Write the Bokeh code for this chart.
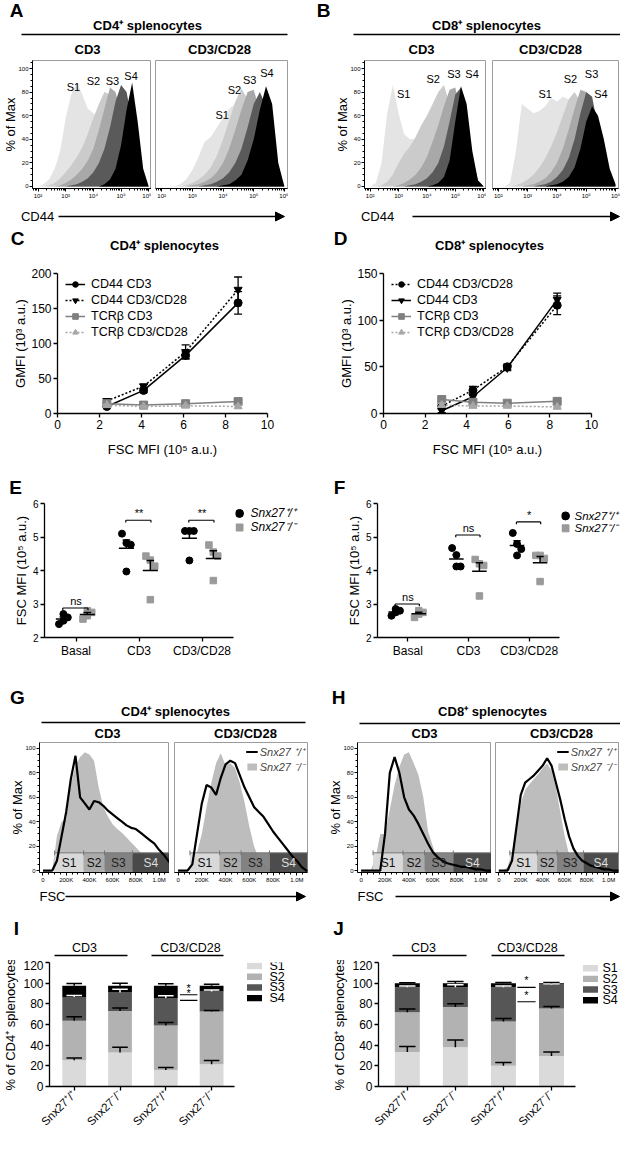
import math
import numpy as np
from bokeh.plotting import figure
from bokeh.layouts import column, row
from bokeh.models import (Range1d, FixedTicker, SingleIntervalTicker, Spacer, Arrow,
                          NormalHead, Legend, LegendItem)
from bokeh.core.properties import value
from bokeh.embed import file_html
from bokeh.resources import INLINE

FONT = "Liberation Sans"
STAGES = ["S1", "S2", "S3", "S4"]

# ---------------- A / B : CD44 histograms (% of max) on a log10(CD44) grid ----------------
CD44_LOG = [1.8, 2.0, 2.2, 2.4, 2.6, 2.8, 3.0, 3.2, 3.4, 3.6, 3.8,
            4.0, 4.2, 4.4, 4.6, 4.8, 5.0, 5.2, 5.4, 5.6, 5.8, 6.0]
A_CD3 = [
    [0, 0, 2, 6, 15, 30, 58, 78, 88, 78, 66, 62, 58, 48, 34, 20, 9, 3, 1, 0, 0, 0],
    [0, 0, 0, 1, 3, 7, 12, 18, 25, 33, 45, 58, 70, 80, 78, 62, 40, 20, 7, 2, 0, 0],
    [0, 0, 0, 0, 0, 1, 3, 6, 10, 15, 22, 32, 48, 66, 84, 80, 62, 35, 14, 4, 1, 0],
    [0, 0, 0, 0, 0, 0, 0, 1, 2, 4, 7, 12, 20, 32, 50, 72, 86, 80, 55, 22, 5, 0],
    [0, 0, 0, 0, 0, 0, 0, 0, 0, 0, 0, 0, 0, 2, 6, 15, 35, 65, 88, 55, 15, 0],
]
A_CD28 = [
    [0, 0, 0, 0, 2, 6, 14, 25, 38, 42, 50, 58, 66, 70, 62, 45, 25, 10, 3, 1, 0, 0],
    [0, 0, 0, 0, 0, 1, 3, 6, 10, 16, 26, 40, 56, 72, 83, 74, 52, 28, 10, 3, 0, 0],
    [0, 0, 0, 0, 0, 0, 1, 2, 4, 7, 12, 20, 32, 48, 65, 80, 82, 64, 36, 12, 2, 0],
    [0, 0, 0, 0, 0, 0, 0, 0, 1, 2, 4, 7, 12, 20, 32, 50, 70, 80, 68, 35, 8, 0],
    [0, 0, 0, 0, 0, 0, 0, 0, 0, 0, 0, 1, 2, 5, 10, 22, 40, 65, 85, 70, 20, 0],
]
B_CD3 = [
    [0, 0, 3, 20, 62, 86, 62, 44, 40, 40, 36, 32, 28, 22, 15, 9, 4, 1, 0, 0, 0, 0],
    [0, 0, 0, 1, 4, 10, 20, 28, 34, 42, 52, 60, 70, 80, 86, 70, 45, 22, 8, 2, 0, 0],
    [0, 0, 0, 0, 0, 0, 1, 3, 6, 10, 16, 25, 38, 52, 68, 82, 84, 62, 32, 10, 2, 0],
    [0, 0, 0, 0, 0, 0, 0, 0, 1, 2, 4, 7, 12, 20, 34, 55, 78, 84, 60, 25, 5, 0],
    [0, 0, 0, 0, 0, 0, 0, 0, 0, 0, 0, 0, 1, 3, 8, 22, 55, 85, 70, 30, 5, 0],
]
B_CD28 = [
    [0, 0, 0, 3, 30, 70, 66, 62, 64, 68, 75, 72, 76, 74, 70, 58, 40, 22, 9, 3, 0, 0],
    [0, 0, 0, 0, 1, 3, 6, 10, 16, 24, 34, 46, 60, 74, 80, 72, 50, 26, 9, 2, 0, 0],
    [0, 0, 0, 0, 0, 0, 1, 2, 4, 7, 12, 20, 32, 48, 66, 82, 80, 58, 30, 10, 2, 0],
    [0, 0, 0, 0, 0, 0, 0, 0, 1, 2, 4, 8, 14, 24, 40, 62, 80, 76, 50, 20, 4, 0],
    [0, 0, 0, 0, 0, 0, 0, 0, 0, 0, 1, 2, 4, 8, 16, 32, 55, 68, 60, 40, 15, 2],
]
HIST_SHADES = ["#e4e4e4", "#cbcbcb", "#a8a8a8", "#5a5a5a", "#000000"]
# stage label anchors (log10 CD44, % of max)
A_CD3_LAB = [(3.28, 84), (4.0, 89), (4.69, 89), (5.36, 94)]
A_CD28_LAB = [(3.97, 61), (4.37, 82), (4.87, 90), (5.43, 96)]
B_CD3_LAB = [(3.18, 78), (4.22, 91), (4.95, 95), (5.59, 95)]
B_CD28_LAB = [(3.6, 78), (4.46, 91), (5.18, 95), (5.5, 78)]

# ---------------- C / D : GMFI vs FSC MFI ----------------
C_X = [2.35, 4.1, 6.1, 8.6]
C_CD44_CD3 = [10, 33, 83, 158]
C_CD44_CD3_ERR = [2, 3, 5, 16]
C_CD44_CD28 = [18, 39, 88, 177]
C_CD44_CD28_ERR = [3, 3, 10, 18]
C_TCR_CD3 = [14, 12, 14, 17]
C_TCR_CD3_ERR = [2, 1, 1, 2]
C_TCR_CD28 = [12, 10, 11, 10]
C_TCR_CD28_ERR = [1, 1, 1, 2]

D_X = [2.8, 4.3, 5.95, 8.35]
D_CD44_CD28 = [8, 25, 50, 116]
D_CD44_CD28_ERR = [3, 4, 3, 10]
D_CD44_CD3 = [3, 18, 49, 122]
D_CD44_CD3_ERR = [2, 3, 3, 7]
D_TCR_CD3 = [15, 12, 11, 13]
D_TCR_CD3_ERR = [2, 2, 1, 1]
D_TCR_CD28 = [9, 8, 8, 7]
D_TCR_CD28_ERR = [2, 1, 1, 1]

# ---------------- E / F : FSC MFI per mouse ----------------
CONDITIONS = ["Basal", "CD3", "CD3/CD28"]
E_WT = [[2.40, 2.50, 2.60, 2.70], [5.10, 4.82, 4.77, 3.97], [5.18, 5.18, 5.18, 4.30]]
E_KO = [[2.55, 2.65, 2.75, 2.80], [4.43, 4.31, 4.13, 3.13], [4.76, 4.55, 4.43, 3.70]]
F_WT = [[2.65, 2.75, 2.80, 2.85], [4.67, 4.46, 4.12, 4.12], [5.12, 4.79, 4.64, 4.45]]
F_KO = [[2.60, 2.70, 2.75, 2.80], [4.33, 4.20, 4.15, 3.24], [4.45, 4.45, 4.36, 3.67]]
E_SIG = ["ns", "**", "**"]
F_SIG = ["ns", "ns", "*"]

# ---------------- G / H : FSC histograms (% of max) ----------------
FSC_K = [0, 40, 80, 120, 160, 200, 240, 280, 320, 360, 400, 440, 480, 520, 560,
         600, 640, 680, 720, 760, 800, 840, 880, 920, 960, 1000, 1040, 1080, 1120]
G_CD3_KO = [0, 0, 0, 28, 40, 42, 70, 86, 93, 97, 95, 90, 68, 52, 44, 38, 34, 31, 27, 23,
            19, 15, 12, 8, 4, 1, 0, 0, 0]
G_CD3_WT = [0, 0, 0, 8, 28, 48, 75, 94, 60, 55, 50, 57, 56, 53, 49, 46, 43, 40, 37, 35,
            34, 31, 28, 25, 22, 17, 13, 8, 3]
G_CD28_KO = [0, 0, 0, 4, 15, 30, 52, 72, 88, 96, 86, 88, 84, 72, 56, 36, 20, 10, 5, 2,
             0, 0, 0, 0, 0, 0, 0, 0, 0]
G_CD28_WT = [0, 0, 0, 5, 30, 55, 70, 68, 62, 76, 87, 90, 88, 78, 68, 60, 52, 48, 44, 38,
             32, 27, 22, 17, 12, 8, 3, 0, 0]
H_CD3_KO = [0, 0, 0, 10, 30, 30, 50, 70, 85, 95, 97, 88, 78, 60, 32, 20, 8, 4, 2, 1,
            0, 0, 0, 0, 0, 0, 0, 0, 0]
H_CD3_WT = [0, 0, 0, 0, 0, 30, 80, 93, 80, 60, 50, 45, 38, 30, 22, 15, 11, 8, 6, 5,
            4, 3, 3, 2, 1, 1, 0, 0, 0]
H_CD28_KO = [0, 0, 3, 15, 35, 55, 66, 71, 75, 79, 84, 88, 82, 68, 48, 28, 13, 5, 2, 0,
             0, 0, 0, 0, 0, 0, 0, 0, 0]
H_CD28_WT = [0, 0, 0, 8, 35, 62, 72, 75, 78, 82, 86, 92, 86, 72, 58, 42, 28, 18, 12, 8,
             6, 4, 3, 2, 1, 1, 0, 0, 0]
GATE_EDGES_K = [100, 350, 530, 770, 1090]
GATE_COLORS = ["#d9d9d9", "#a9a9a9", "#7d7d7d", "#3e3e3e"]
GATE_TEXT = ["#111111", "#111111", "#222222", "#dddddd"]

# ---------------- I / J : stacked % of cells per size stage ----------------
GENOTYPES = ["Snx27⁺/⁺", "Snx27⁻/⁻", "Snx27⁺/⁺", "Snx27⁻/⁻"]
I_S1 = [25.5, 33.0, 16.0, 21.5]
I_S2 = [38.2, 40.0, 43.0, 51.0]
I_S3 = [22.8, 18.0, 26.6, 19.4]
I_S4 = [11.0, 6.5, 11.9, 5.6]
I_S1_ERR = [2.2, 5.0, 2.5, 3.7]
I_S2_ERR = [3.7, 3.0, 3.0, 1.0]
I_S3_ERR = [1.5, 3.0, 2.2, 1.5]
I_S4_ERR = [2.2, 2.5, 1.9, 1.4]
J_S1 = [33.5, 38.0, 20.2, 29.5]
J_S2 = [38.4, 38.9, 42.8, 45.9]
J_S3 = [24.1, 19.1, 33.0, 23.2]
J_S4 = [3.8, 3.8, 3.8, 1.2]
J_S1_ERR = [5.3, 7.0, 3.1, 4.0]
J_S2_ERR = [3.1, 3.1, 2.7, 2.1]
J_S3_ERR = [1.3, 2.5, 1.3, 0.8]
J_S4_ERR = [0.5, 1.9, 0.9, 0.9]
STACK_COLORS = ["#dadada", "#b2b2b2", "#565656", "#000000"]


# ======================= helpers =======================
def T(p, x, y, s, size=12, style="normal", align="center", baseline="middle",
      color="black", angle=0):
    p.text(x=[x], y=[y], text=[s], text_font=value(FONT), text_font_size=f"{size}px",
           text_font_style=style, text_align=align, text_baseline=baseline,
           text_color=color, angle=angle)


def ann(x0, x1, y0, y1):
    p = figure(width=x1 - x0, height=y1 - y0, x_range=Range1d(x0, x1),
               y_range=Range1d(y1, y0), x_axis_type=None, y_axis_type=None,
               output_backend="svg", toolbar_location=None, title=None,
               min_border_left=0, min_border_right=0, min_border_top=0,
               min_border_bottom=0)
    p.outline_line_color = None
    p.background_fill_color = None
    p.border_fill_color = None
    return p


def base(w, h, bl, br, bt, bb, xr, yr, xtype="linear"):
    p = figure(width=w, height=h, x_range=xr, y_range=yr, x_axis_type=xtype,
               output_backend="svg", toolbar_location=None, title=None,
               min_border_left=bl, min_border_right=br, min_border_top=bt,
               min_border_bottom=bb)
    p.xgrid.visible = False
    p.ygrid.visible = False
    p.outline_line_color = None
    p.border_fill_color = None
    for ax in p.axis:
        ax.axis_line_color = "black"
        ax.axis_line_width = 1.3
        ax.major_tick_line_color = "black"
        ax.major_tick_line_width = 1.3
        ax.major_tick_out = 4
        ax.major_tick_in = 0
        ax.minor_tick_line_color = None
        ax.major_label_text_font = FONT
        ax.major_label_text_font_size = "12px"
        ax.major_label_text_color = "black"
        ax.major_label_standoff = 2
        ax.axis_label_text_font = FONT
        ax.axis_label_text_font_size = "13px"
        ax.axis_label_text_font_style = "normal"
        ax.axis_label_text_color = "black"
        ax.axis_label_standoff = 2
    return p


def hist_axes(p, ylabel):
    p.outline_line_color = "#9c9c9c"
    for ax in p.axis:
        ax.axis_line_width = 1
        ax.major_tick_line_width = 1
        ax.major_tick_out = 3
        ax.minor_tick_line_color = "black"
        ax.minor_tick_out = 2
        ax.minor_tick_in = 0
        ax.major_label_text_font_size = "6px"
        ax.major_label_standoff = 1
    p.yaxis.ticker = SingleIntervalTicker(interval=20, num_minor_ticks=4)
    if ylabel:
        p.yaxis.axis_label = "% of Max"
        p.yaxis.axis_label_text_font_size = "13px"
        p.yaxis.axis_label_standoff = -3
    else:
        p.yaxis.visible = False


def cd44_hist(w, bl, br, layers, labels, ylabel):
    p = base(w, 146, bl, br, 2, 16, Range1d(10 ** 1.8, 10 ** 6.1), Range1d(-1.7, 106.8), "log")
    hist_axes(p, ylabel)
    decades = [100, 1000, 10000, 100000, 1000000]
    p.xaxis.ticker = FixedTicker(ticks=decades,
                                 minor_ticks=[d * k for d in [10] + decades[:-1] for k in range(2, 10)])
    p.xaxis.major_label_overrides = {100: "10²", 1000: "10³", 10000: "10⁴",
                                     100000: "10⁵", 1000000: "10⁶"}
    x = [10 ** v for v in CD44_LOG]
    for vals, col in zip(layers, HIST_SHADES):
        p.varea(x=x, y1=[0] * len(x), y2=vals, fill_color=col)
    for (lx, ly), name in zip(labels, STAGES):
        T(p, 10 ** lx, ly, name, size=11)
    return p


def fsc_hist(w, bl, br, ko, wt, ylabel, legend):
    p = base(w, 150, bl, br, 2, 18, Range1d(-30000, 1090000), Range1d(-1.6, 104.9))
    hist_axes(p, ylabel)
    p.xaxis.ticker = FixedTicker(ticks=[0, 200000, 400000, 600000, 800000, 1000000],
                                 minor_ticks=list(range(0, 1080000, 50000)))
    p.xaxis.major_label_overrides = {0: "0", 200000: "200K", 400000: "400K", 600000: "600K",
                                     800000: "800K", 1000000: "1.0M"}
    x = [k * 1000 for k in FSC_K]
    r_ko = p.varea(x=x, y1=[0] * len(x), y2=ko, fill_color="#bdbdbd")
    edges = [k * 1000 for k in GATE_EDGES_K]
    p.quad(left=edges[:-1], right=edges[1:], bottom=-1.6, top=14.5,
           fill_color=GATE_COLORS, fill_alpha=0.93, line_color=None)
    p.segment(x0=[edges[0]], y0=[14.5], x1=[edges[-1]], y1=[14.5], line_color="#777777", line_width=1)
    p.segment(x0=edges, y0=[12.5] * len(edges), x1=edges, y1=[16.5] * len(edges),
              line_color="#777777", line_width=1)
    r_wt = p.line(x, wt, line_color="black", line_width=2.2)
    for i, name in enumerate(STAGES):
        T(p, (edges[i] + edges[i + 1]) / 2, 6.5, name, size=12, color=GATE_TEXT[i])
    if legend:
        leg = Legend(items=[LegendItem(label="Snx27 ⁺/⁺", renderers=[r_wt]),
                            LegendItem(label="Snx27 ⁻/⁻", renderers=[r_ko])],
                     location="top_right")
        leg.label_text_font = FONT
        leg.label_text_font_style = "italic"
        leg.label_text_font_size = "11px"
        leg.glyph_width = 12
        leg.glyph_height = 9
        leg.label_height = 11
        leg.label_standoff = 2
        leg.spacing = 0
        leg.padding = 1
        leg.margin = 2
        leg.border_line_color = None
        leg.background_fill_alpha = 0
        p.add_layout(leg)
    return p


def gmfi_fig(w, bl, br, xs, series, ymax, yticks):
    p = base(w, 202, bl, br, 13, 49, Range1d(0, 10), Range1d(0, ymax))
    p.xaxis.ticker = FixedTicker(ticks=[0, 2, 4, 6, 8, 10])
    p.yaxis.ticker = FixedTicker(ticks=yticks)
    p.xaxis.axis_label = "FSC MFI (10⁵ a.u.)"
    p.yaxis.axis_label = "GMFI (10³ a.u.)"
    p.xaxis.axis_label_standoff = 10
    p.yaxis.axis_label_standoff = 0
    items = []
    for name, ys, errs, marker, color, dash in series:
        lr = p.line(xs, ys, line_color=color, line_width=1.5, line_dash=dash)
        lo = [y - e for y, e in zip(ys, errs)]
        hi = [y + e for y, e in zip(ys, errs)]
        p.segment(x0=xs, y0=lo, x1=xs, y1=hi, line_color=color, line_width=1.3)
        p.scatter(xs, lo, marker="dash", size=8, line_color=color, line_width=1.3)
        p.scatter(xs, hi, marker="dash", size=8, line_color=color, line_width=1.3)
        sr = p.scatter(xs, ys, marker=marker, size=8, fill_color=color, line_color=color)
        items.append(LegendItem(label=name, renderers=[lr, sr]))
    leg = Legend(items=items, location=(8, 74))
    leg.label_text_font = FONT
    leg.label_text_font_size = "12.5px"
    leg.label_text_color = "black"
    leg.glyph_width = 20
    leg.glyph_height = 14
    leg.label_height = 14
    leg.label_standoff = 6
    leg.spacing = 2
    leg.padding = 0
    leg.margin = 0
    leg.border_line_color = None
    leg.background_fill_alpha = 0
    p.add_layout(leg)
    return p


def dot_fig(w, bl, wt, ko, sig, sig_y, sig_h):
    p = base(w, 162, bl, 2, 5, 23, Range1d(0.5, 3.5), Range1d(2, 6))
    p.yaxis.ticker = FixedTicker(ticks=[2, 3, 4, 5, 6])
    p.yaxis.major_label_text_font_size = "10px"
    p.xaxis.ticker = FixedTicker(ticks=[1, 2, 3])
    p.xaxis.major_label_overrides = {i + 1: c for i, c in enumerate(CONDITIONS)}
    p.yaxis.axis_label = "FSC MFI (10⁵ a.u.)"
    p.yaxis.axis_label_standoff = 1
    jit = [-0.07, 0.0, 0.07, 0.0]
    for g in range(3):
        for vals, off, marker, col, size in [(wt[g], -0.2, "circle", "black", 7),
                                              (ko[g], 0.18, "square", "#9a9a9a", 6.5)]:
            c = g + 1 + off
            p.scatter([c + j for j in jit], vals, marker=marker, size=size,
                      fill_color=col, line_color=col)
            m = float(np.mean(vals))
            se = float(np.std(vals, ddof=1) / np.sqrt(len(vals)))
            p.segment(x0=[c - 0.12], y0=[m], x1=[c + 0.12], y1=[m], line_color="black", line_width=1.5)
            p.segment(x0=[c], y0=[m], x1=[c], y1=[m + se], line_color="black", line_width=1.5)
            p.segment(x0=[c - 0.06], y0=[m + se], x1=[c + 0.06], y1=[m + se],
                      line_color="black", line_width=1.5)
        x0, x1, y = g + 1 - 0.21, g + 1 + 0.19, sig_y[g]
        p.segment(x0=[x0, x0, x1], y0=[y, y, y], x1=[x1, x0, x1], y1=[y, y - sig_h, y - sig_h],
                  line_color="black", line_width=1.2)
        T(p, g + 1, y + 0.04, sig[g], size=11, baseline="bottom")
    return p


def bar_fig(w, bl, xr, segs, errs, ylabel, sig_lines):
    p = base(w, 174, bl, 2, 2, 44, xr, Range1d(0, 120))
    xs = [1, 2, 3, 4]
    p.xaxis.ticker = FixedTicker(ticks=xs)
    p.xaxis.major_label_overrides = {i + 1: g for i, g in enumerate(GENOTYPES)}
    p.xaxis.major_label_orientation = math.pi / 4
    p.xaxis.major_label_text_font_size = "11.5px"
    p.yaxis.ticker = FixedTicker(ticks=[0, 20, 40, 60, 80, 100, 120])
    p.yaxis.axis_label = ylabel
    p.yaxis.axis_label_standoff = 2
    bottom = np.zeros(4)
    tops = []
    for seg, col in zip(segs, STACK_COLORS):
        top = bottom + np.array(seg)
        p.vbar(x=xs, bottom=bottom, top=top, width=0.52, fill_color=col, line_color=None)
        tops.append(top)
        bottom = top
    for k, (top, err) in enumerate(zip(tops, errs)):
        col = "white" if k == 2 else "black"
        hi = top + np.array(err)
        p.segment(x0=xs, y0=top, x1=xs, y1=hi, line_color=col, line_width=1.5)
        p.segment(x0=[x - 0.17 for x in xs], y0=hi, x1=[x + 0.17 for x in xs], y1=hi,
                  line_color=col, line_width=1.5)
    for (x0, x1, y) in sig_lines:
        p.segment(x0=[x0], y0=[y], x1=[x1], y1=[y], line_color="black", line_width=1.2)
        T(p, (x0 + x1) / 2, y + 0.8, "*", size=11, baseline="bottom")
    return p


def stage_legend(x0, x1, y0, y1, sx, tx, rows):
    p = ann(x0, x1, y0, y1)
    p.rect(x=[sx] * 4, y=rows, width=15, height=9, fill_color=STACK_COLORS, line_color=None)
    for yy, name in zip(rows, STAGES):
        T(p, tx, yy, name, size=12.5, align="left")
    return p


def geno_legend(x0, x1, y0, y1, mx, tx, ys, size):
    p = ann(x0, x1, y0, y1)
    p.scatter([mx], [ys[0]], marker="circle", size=8, fill_color="black", line_color="black")
    p.scatter([mx], [ys[1]], marker="square", size=7, fill_color="#9a9a9a", line_color="#9a9a9a")
    T(p, tx, ys[0], "Snx27⁺/⁺", size=size, style="italic", align="left")
    T(p, tx, ys[1], "Snx27⁻/⁻", size=size, style="italic", align="left")
    return p


def arrow(p, x0, x1, y):
    p.add_layout(Arrow(end=NormalHead(size=9, fill_color="black", line_color="black"),
                       x_start=x0, y_start=y, x_end=x1, y_end=y,
                       line_color="black", line_width=1.3))


def hline(p, x0, x1, y, w=1.3):
    p.segment(x0=[x0], y0=[y], x1=[x1], y1=[y], line_color="black", line_width=w)


# ======================= rows =======================
# R1 header A/B
r1 = ann(8, 628, 8, 66)
T(r1, 24, 18, "A", size=19, style="bold")
T(r1, 155, 33, "CD4⁺ splenocytes", size=13, style="bold")
hline(r1, 29, 295, 42)
T(r1, 95, 57, "CD3", size=13, style="bold")
T(r1, 227, 57, "CD3/CD28", size=13, style="bold")
T(r1, 331, 18, "B", size=19, style="bold")
T(r1, 494, 33, "CD8⁺ splenocytes", size=13, style="bold")
hline(r1, 361, 628, 42)
T(r1, 429, 57, "CD3", size=13, style="bold")
T(r1, 558, 57, "CD3/CD28", size=13, style="bold")

# R2 CD44 histograms
a1 = cd44_hist(151, 23, 0, A_CD3, A_CD3_LAB, True)
a2 = cd44_hist(137, 4, 1, A_CD28, A_CD28_LAB, False)
b1 = cd44_hist(154, 27, 0, B_CD3, B_CD3_LAB, True)
b2 = cd44_hist(134, 6, 2, B_CD28, B_CD28_LAB, False)
r2 = row(a1, a2, Spacer(width=44, height=146), b1, b2)

# R3 CD44 arrows + C/D headers
r3 = ann(8, 628, 212, 268)
T(r3, 45, 224, "CD44", size=13)
arrow(r3, 66, 292, 224)
T(r3, 385, 224, "CD44", size=13)
arrow(r3, 420, 627, 224)
T(r3, 25, 246, "C", size=19, style="bold")
T(r3, 172, 253, "CD4⁺ splenocytes", size=13, style="bold")
T(r3, 348, 246, "D", size=19, style="bold")
T(r3, 497, 253, "CD8⁺ splenocytes", size=13, style="bold")

# R4 C / D
c_series = [("CD44 CD3", C_CD44_CD3, C_CD44_CD3_ERR, "circle", "black", "solid"),
            ("CD44 CD3/CD28", C_CD44_CD28, C_CD44_CD28_ERR, "inverted_triangle", "black", "2 2"),
            ("TCRβ CD3", C_TCR_CD3, C_TCR_CD3_ERR, "square", "#7f7f7f", "solid"),
            ("TCRβ CD3/CD28", C_TCR_CD28, C_TCR_CD28_ERR, "triangle", "#a6a6a6", "2 2")]
d_series = [("CD44 CD3/CD28", D_CD44_CD28, D_CD44_CD28_ERR, "circle", "black", "2 2"),
            ("CD44 CD3", D_CD44_CD3, D_CD44_CD3_ERR, "inverted_triangle", "black", "solid"),
            ("TCRβ CD3", D_TCR_CD3, D_TCR_CD3_ERR, "square", "#7f7f7f", "solid"),
            ("TCRβ CD3/CD28", D_TCR_CD28, D_TCR_CD28_ERR, "triangle", "#a6a6a6", "2 2")]
cfig = gmfi_fig(310, 57, 43, C_X, c_series, 200, [0, 50, 100, 150, 200])
dfig = gmfi_fig(310, 73, 29, D_X, d_series, 150, [0, 50, 100, 150])
r4 = row(cfig, dfig)

# R5 E/F letters
r5 = ann(8, 628, 470, 506)
T(r5, 23, 495, "E", size=19, style="bold")
T(r5, 347, 495, "F", size=19, style="bold")

# R6 E / F
efig = dot_fig(235, 44, E_WT, E_KO, E_SIG, [2.88, 5.5, 5.5], 0.07)
eleg = geno_legend(243, 318, 506, 668, 247, 258, [518, 535], 12)
ffig = dot_fig(251, 67, F_WT, F_KO, F_SIG, [3.0, 5.06, 5.45], 0.07)
fleg = geno_legend(569, 628, 506, 668, 573, 582, [521, 536], 11.5)
r6 = row(efig, eleg, ffig, fleg)

# R7 G/H headers
r7 = ann(8, 628, 668, 748)
T(r7, 25, 705, "G", size=19, style="bold")
T(r7, 183, 719, "CD4⁺ splenocytes", size=13, style="bold")
hline(r7, 49, 313, 730)
T(r7, 115, 741, "CD3", size=13, style="bold")
T(r7, 253, 741, "CD3/CD28", size=13, style="bold")
T(r7, 346, 705, "H", size=19, style="bold")
T(r7, 500, 719, "CD8⁺ splenocytes", size=13, style="bold")
hline(r7, 367, 628, 731)
T(r7, 432, 741, "CD3", size=13, style="bold")
T(r7, 569, 741, "CD3/CD28", size=13, style="bold")

# R8 FSC histograms
g1 = fsc_hist(169, 39, 0, G_CD3_KO, G_CD3_WT, True, False)
g2 = fsc_hist(139, 5, 1, G_CD28_KO, G_CD28_WT, False, True)
h1 = fsc_hist(179, 45, 0, H_CD3_KO, H_CD3_WT, True, False)
h2 = fsc_hist(129, 4, 2, H_CD28_KO, H_CD28_WT, False, True)
r8 = row(g1, g2, Spacer(width=4, height=150), h1, h2)

# R9 FSC arrows + I/J headers
r9 = ann(8, 628, 898, 968)
T(r9, 60, 904, "FSC", size=13)
arrow(r9, 73, 313, 904)
T(r9, 378, 904, "FSC", size=13)
arrow(r9, 403, 627, 904)
T(r9, 24, 936, "I", size=19, style="bold")
T(r9, 346, 936, "J", size=19, style="bold")
T(r9, 92, 955, "CD3", size=12.5)
hline(r9, 62, 135, 963)
T(r9, 198, 955, "CD3/CD28", size=12.5)
hline(r9, 159, 231, 963)
T(r9, 431, 955, "CD3", size=12.5)
hline(r9, 400, 474, 963)
T(r9, 535, 955, "CD3/CD28", size=12.5)
hline(r9, 499, 572, 963)

# R10 I / J
ifig = bar_fig(236, 41, Range1d(0.46, 4.5), [I_S1, I_S2, I_S3, I_S4],
               [I_S1_ERR, I_S2_ERR, I_S3_ERR, I_S4_ERR], "% of CD4⁺ splenocytes",
               [(3.31, 3.69, 88.8), (3.31, 3.69, 83.4)])
ileg = stage_legend(244, 318, 968, 1142, 262, 277, [973, 988, 1003, 1018])
jfig = bar_fig(267, 68, Range1d(0.4, 4.5), [J_S1, J_S2, J_S3, J_S4],
               [J_S1_ERR, J_S2_ERR, J_S3_ERR, J_S4_ERR], "% of CD8⁺ splenocytes",
               [(3.29, 3.67, 96.0), (3.29, 3.67, 82.0)])
jleg = stage_legend(585, 628, 968, 1142, 598, 610, [976, 991, 1006, 1021])
r10 = row(ifig, ileg, jfig, jleg)

page = column(r1, r2, r3, r4, r5, r6, r7, r8, r9, r10)

with open("out.html", "w") as f:
    f.write(file_html(page, INLINE))
